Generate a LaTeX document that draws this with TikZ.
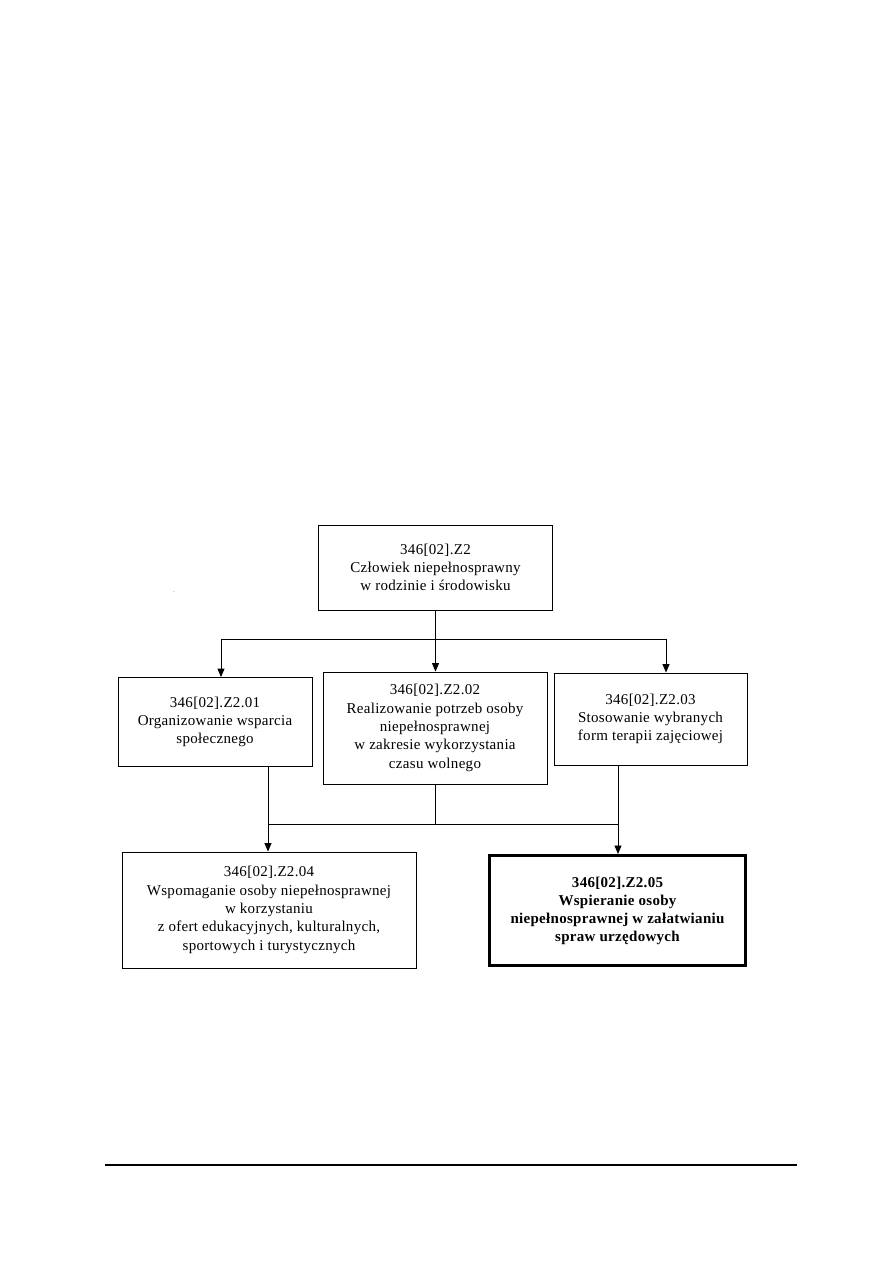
\documentclass[tikz,border=0pt]{standalone}
\usepackage{fontspec}
\setmainfont{Liberation Serif}[LetterSpace=2]
\usetikzlibrary{arrows.meta}
\begin{document}
\begin{tikzpicture}[x=1pt,y=-1pt,
  box/.style={draw=black,line width=0.9pt,rectangle,inner sep=0pt,align=center,
    font=\fontsize{15}{18.3}\selectfont},
  boldbox/.style={box,line width=3pt,font=\fontsize{15}{18}\selectfont\bfseries},
  conn/.style={draw=black,line width=0.9pt},
  arr/.style={conn,-{Triangle[width=7pt,length=8.5pt]}}]
\useasboundingbox[fill=white] (0,0) rectangle (893,1263);

\node[box,minimum width=234pt,minimum height=85pt] (top) at (435.5,567.5)
  {346[02].Z2\\Człowiek niepełnosprawny\\w rodzinie i środowisku};
\node[box,minimum width=194pt,minimum height=89pt] (b1) at (215,722)
  {346[02].Z2.01\\Organizowanie wsparcia\\społecznego};
\node[box,minimum width=224pt,minimum height=112pt] (b2) at (435,728)
  {346[02].Z2.02\\Realizowanie potrzeb osoby\\niepełnosprawnej\\w zakresie wykorzystania\\czasu wolnego};
\node[box,minimum width=193pt,minimum height=92pt] (b3) at (650.5,719)
  {346[02].Z2.03\\Stosowanie wybranych\\form terapii zajęciowej};
\node[box,minimum width=294pt,minimum height=116pt] (b4) at (269,910)
  {346[02].Z2.04\\Wspomaganie osoby niepełnosprawnej\\w korzystaniu\\z ofert edukacyjnych, kulturalnych,\\sportowych i turystycznych};
\node[boldbox,minimum width=256pt,minimum height=110pt] (b5) at (617.5,910.5)
  {346[02].Z2.05\\Wspieranie osoby\\niepełnosprawnej w załatwianiu\\spraw urzędowych};

\node[inner sep=0pt,font=\fontsize{7}{7}\selectfont,text=black!60] (dot) at (174,592) {.};

% upper connectors
\coordinate (hL) at (221,639);
\coordinate (hR) at (666,639);
\draw[conn] (hL) -- (hR);
\draw[arr] (top.south) -- (top.south |- b2.north);
\draw[arr] (hL) -- (hL |- b1.north);
\draw[arr] (hR) -- (hR |- b3.north);

% lower connectors
\coordinate (lL) at (268,824);
\coordinate (lR) at (618,824);
\draw[conn] (lL) -- (lR);
\draw[conn] (b2.south) -- (b2.south |- lL);
\draw[arr] (b1.south -| lL) -- (lL |- b4.north);
\draw[arr] (b3.south -| lR) -- (lR |- b5.north);

% footer rule
\coordinate (fl) at (105,1165);
\coordinate (fr) at (797,1165);
\draw[line width=1.1pt] (fl) -- (fr);
\end{tikzpicture}
\end{document}
